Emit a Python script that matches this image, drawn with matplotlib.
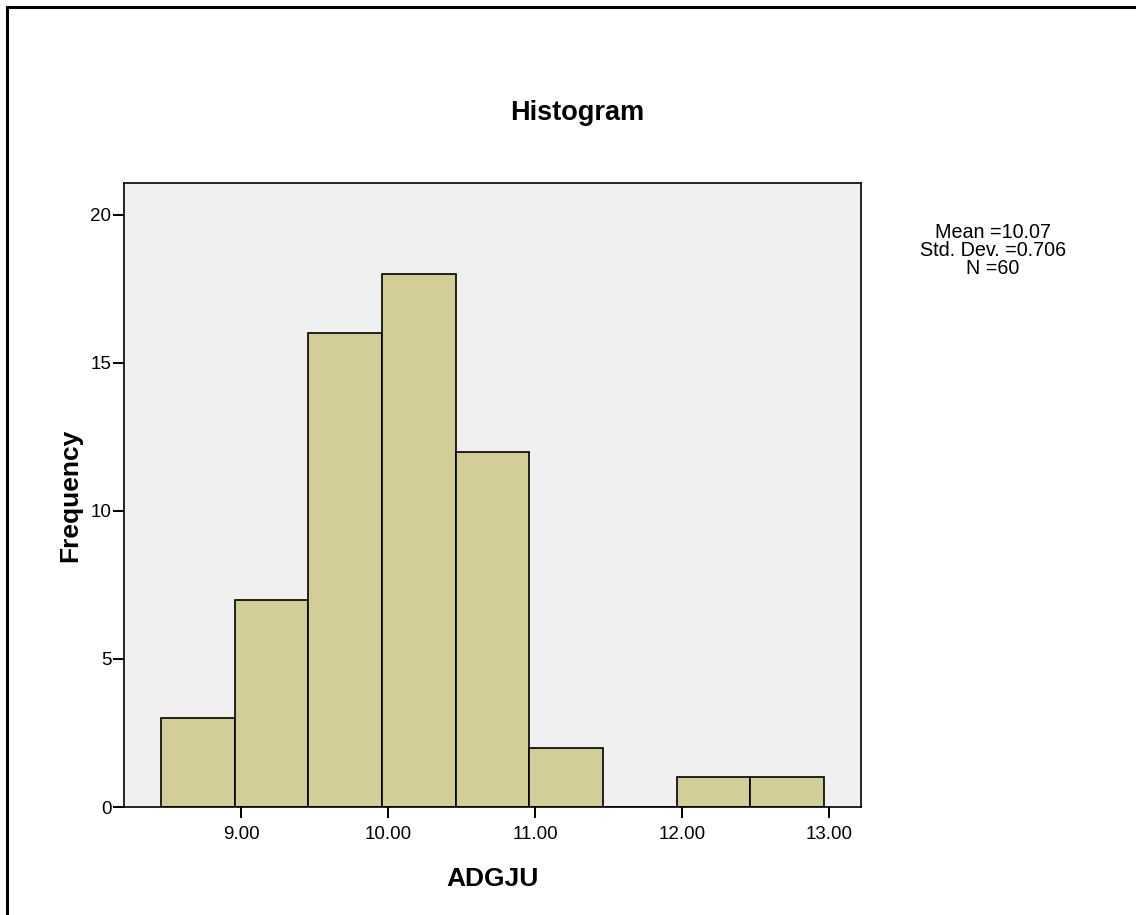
import matplotlib
matplotlib.use('Agg')
import matplotlib.pyplot as plt
from matplotlib.patches import Rectangle

plt.rcParams['font.family'] = ['Liberation Sans', 'DejaVu Sans']

bin_edges = [8.457, 8.958, 9.459, 9.960, 10.461, 10.962, 11.463, 11.964, 12.465, 12.966]
counts = [3, 7, 16, 18, 12, 2, 0, 1, 1]
xticks = [9.0, 10.0, 11.0, 12.0, 13.0]
yticks = [0, 5, 10, 15, 20]
stats = ['Mean =10.07', 'Std. Dev. =0.706', 'N =60']

fig = plt.figure(figsize=(11.36, 9.15), dpi=100)
ax = fig.add_axes([124/1136, 1 - 807/915, 737/1136, 624/915])
ax.set_facecolor('#f0f0f0')

widths = [b - a for a, b in zip(bin_edges[:-1], bin_edges[1:])]
ax.bar(bin_edges[:-1], counts, width=widths, align='edge',
       color='#d3ce97', edgecolor='black', linewidth=1.2)

ax.set_xlim(8.204, 13.218)
ax.set_ylim(0, 21.08)
ax.set_xticks(xticks)
ax.set_xticklabels(['%.2f' % t for t in xticks])
ax.set_yticks(yticks)
ax.tick_params(direction='out', length=8, width=1.4, labelsize=13.5)
ax.tick_params(axis='x', pad=6)
ax.tick_params(axis='y', pad=1)
for s in ax.spines.values():
    s.set_linewidth(1.2)

ax.set_xlabel('ADGJU', fontsize=19, fontweight='bold', labelpad=17)
ax.set_ylabel('Frequency', fontsize=19, fontweight='bold', labelpad=6)
fig.text(577/1136, 1 - 113/915, 'Histogram', fontsize=19.5, fontweight='bold',
         ha='center', va='center')

for i, line in enumerate(stats):
    fig.text(993/1136, 1 - (232 + 18.5*i)/915, line, fontsize=14.2,
             ha='center', va='center')

fig.patches.append(Rectangle((7/1136, -0.1), 1.2, 1.1 - 7/915,
                             transform=fig.transFigure, fill=False,
                             edgecolor='black', linewidth=2.2))

fig.savefig('out.png', dpi=100)
